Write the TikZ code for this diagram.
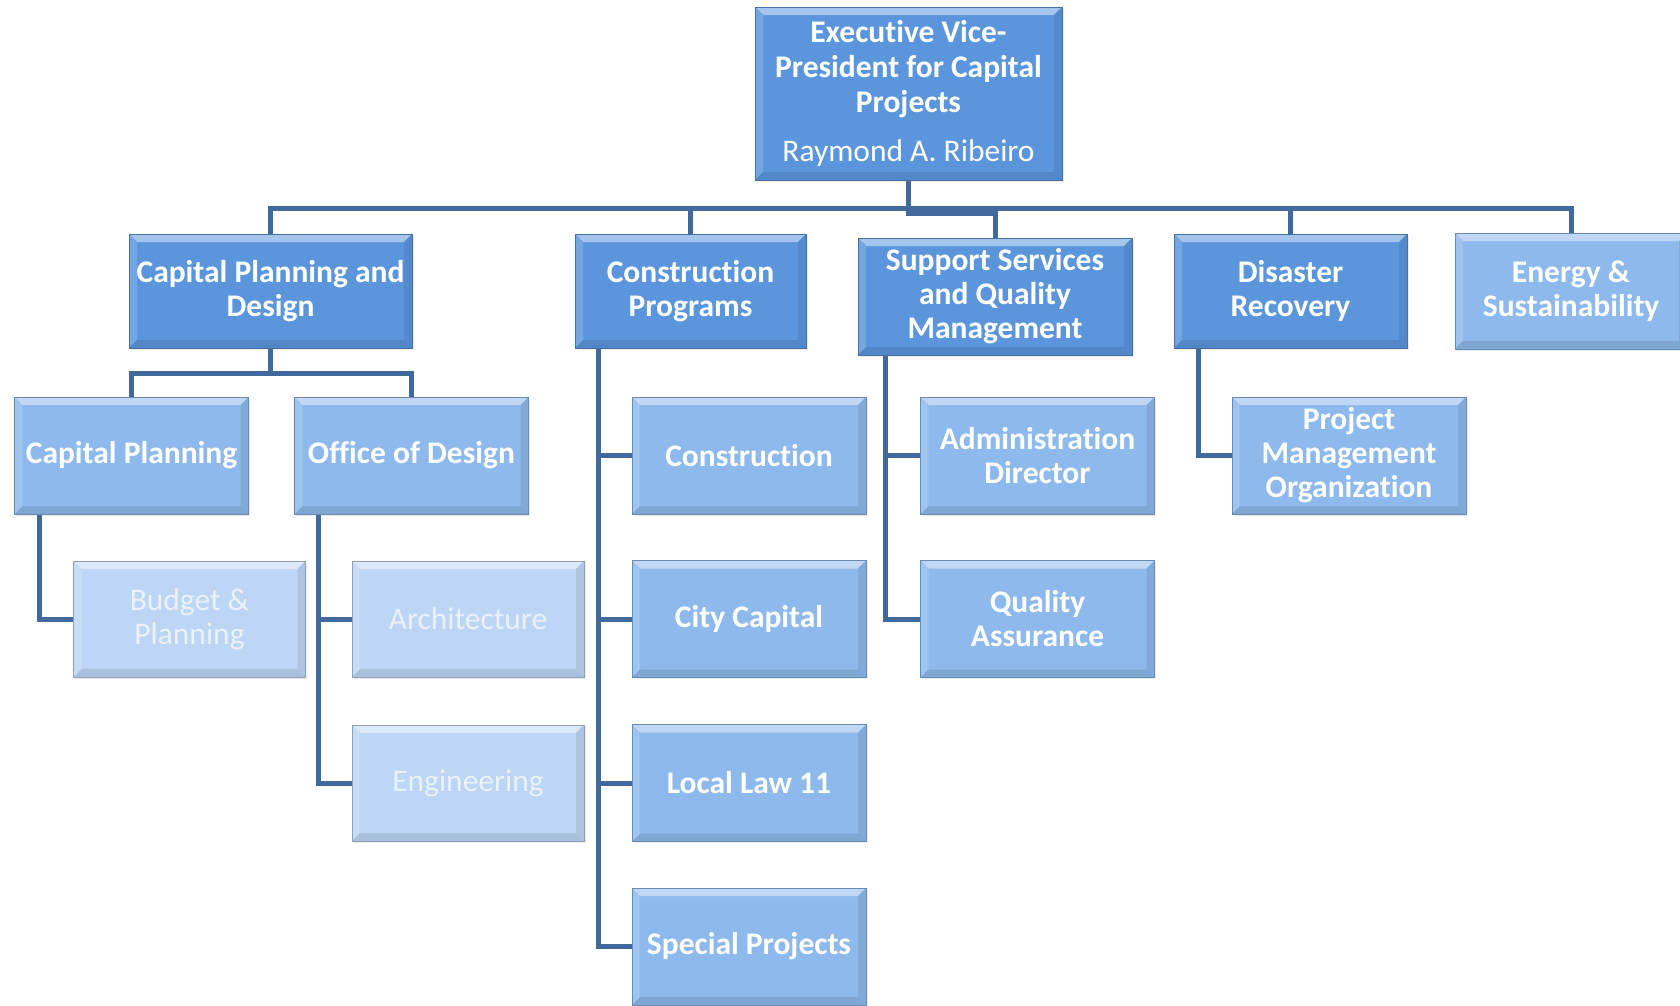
\documentclass[tikz,border=0pt]{standalone}
\usepackage{fontspec}
\setmainfont[RawFeature={-liga}]{Carlito}
\usetikzlibrary{shadows,backgrounds}
\definecolor{lvA}{HTML}{5B96DD}
\definecolor{lvB}{HTML}{8DB9EC}
\definecolor{lvC}{HTML}{BDD6F5}
\definecolor{conn}{HTML}{41699C}
\definecolor{txtC}{HTML}{EAF2FC}
\tikzset{
  bevel/.style={path picture={
    \fill[#1!55!white] (path picture bounding box.north west) -- (path picture bounding box.north east) -- ([xshift=-8pt,yshift=-8pt]path picture bounding box.north east) -- ([xshift=8pt,yshift=-8pt]path picture bounding box.north west) -- cycle;
    \fill[#1!85!white] (path picture bounding box.north west) -- (path picture bounding box.south west) -- ([xshift=8pt,yshift=8pt]path picture bounding box.south west) -- ([xshift=8pt,yshift=-8pt]path picture bounding box.north west) -- cycle;
    \fill[#1!92!black] (path picture bounding box.north east) -- (path picture bounding box.south east) -- ([xshift=-8pt,yshift=8pt]path picture bounding box.south east) -- ([xshift=-8pt,yshift=-8pt]path picture bounding box.north east) -- cycle;
    \fill[#1!90!black] (path picture bounding box.south west) -- (path picture bounding box.south east) -- ([xshift=-8pt,yshift=8pt]path picture bounding box.south east) -- ([xshift=8pt,yshift=8pt]path picture bounding box.south west) -- cycle;
  }},
  box/.style={rectangle, inner sep=0pt, align=center, text=white, fill=#1,
    draw=#1!75!black, line width=0.8pt, bevel=#1,
    drop shadow={opacity=0.15,shadow xshift=1.5pt,shadow yshift=-1.5pt},
    font=\fontsize{31.5}{35}\selectfont},
  lvtwo/.style={box=lvA, font=\fontsize{31.5}{34}\selectfont\bfseries},
  lvthree/.style={box=lvB, font=\fontsize{31.5}{34}\selectfont\bfseries, minimum width=234pt, minimum height=117pt},
  lvfour/.style={box=lvC, text=txtC, font=\fontsize{31.5}{34}\selectfont, minimum width=232pt, minimum height=116pt},
  link/.style={draw=conn, line width=5pt}
}
\begin{document}
\begin{tikzpicture}[x=1pt,y=-1pt]
\useasboundingbox (0,0) rectangle (1680,1005);
\clip (0,0) rectangle (1680,1005);

% top
\node[box=lvA, minimum width=307pt, minimum height=173pt] (top) at (908.5,93.5)
  {\textbf{Executive Vice-}\\\textbf{President for Capital}\\\textbf{Projects}\\[14pt]Raymond A. Ribeiro};

% level 2
\node[lvtwo, minimum width=283pt, minimum height=114pt] (CPD) at (270.5,291) {Capital Planning and\\Design};
\node[lvtwo, minimum width=231pt, minimum height=114pt] (CP) at (690.5,291) {Construction\\Programs};
\node[lvtwo, minimum width=274pt, minimum height=117pt] (SS) at (995,296.5) {Support Services\\and Quality\\Management};
\node[lvtwo, minimum width=233pt, minimum height=114pt] (DR) at (1290.5,291) {Disaster\\Recovery};
\node[lvthree, minimum width=232pt, minimum height=116pt] (ES) at (1571,291) {Energy \&\\Sustainability};

% level 3
\node[lvthree] (CapPlan) at (131.5,455.5) {Capital Planning};
\node[lvthree] (OoD) at (411.5,455.5) {Office of Design};
\node[lvthree] (Constr) at (749,455.5) {Construction};
\node[lvthree] (CityCap) at (749,619) {City Capital};
\node[lvthree] (LL) at (749,783) {Local Law 11};
\node[lvthree] (SP) at (749,946.5) {Special Projects};
\node[lvthree] (Admin) at (1037.5,455.5) {Administration\\Director};
\node[lvthree] (QA) at (1037.5,619) {Quality\\Assurance};
\node[lvthree] (PMO) at (1349,455.5) {Project\\Management\\Organization};

% level 4
\node[lvfour] (Budget) at (189.5,619) {Budget \&\\Planning};
\node[lvfour] (Arch) at (468,619) {Architecture};
\node[lvfour] (Eng) at (468,783) {Engineering};

\begin{scope}[on background layer]
\draw[link] (top.south) -- (top.south |- 0,213) -| (SS.north);
\draw[link] (CPD.north) |- (ES.north |- 0,208) -- (ES.north);
\draw[link] (CP.north) -- (CP.north |- 0,208);
\draw[link] (DR.north) -- (DR.north |- 0,208);

\draw[link] (CPD.south) -- (CPD.south |- 0,373);
\draw[link] (CapPlan.north) |- (OoD.north |- 0,373) -- (OoD.north);

\draw[link] (CapPlan.south -| 39,0) |- (Budget.west);
\draw[link] (OoD.south -| 318,0) |- (Eng.west);
\draw[link] (Arch.west) -- (Arch.west -| 318,0);

\draw[link] (CP.south -| 598,0) |- (SP.west);
\draw[link] (Constr.west) -- (Constr.west -| 598,0);
\draw[link] (CityCap.west) -- (CityCap.west -| 598,0);
\draw[link] (LL.west) -- (LL.west -| 598,0);

\draw[link] (SS.south -| 885,0) |- (QA.west);
\draw[link] (Admin.west) -- (Admin.west -| 885,0);

\draw[link] (DR.south -| 1198,0) |- (PMO.west);
\end{scope}
\end{tikzpicture}
\end{document}
